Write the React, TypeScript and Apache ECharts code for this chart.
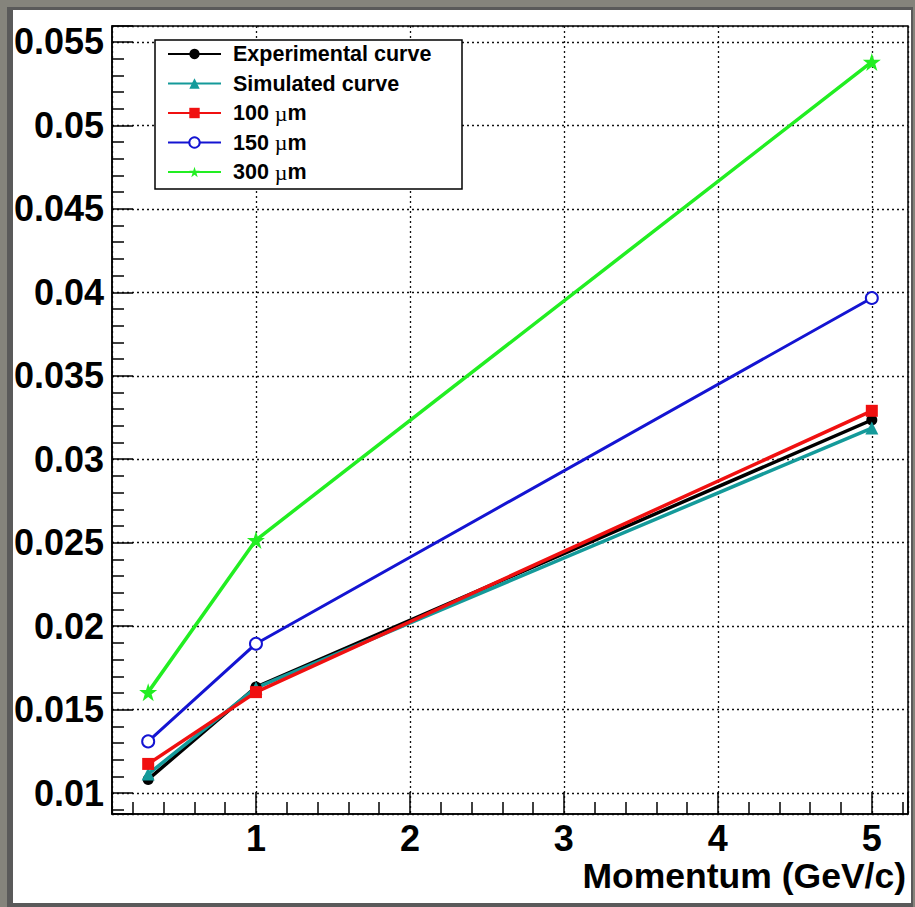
import React, { useEffect, useRef } from "react";
import * as echarts from "echarts";

// Momentum points (GeV/c)
const momentum = [0.3, 1, 5];
// Resolution values per curve
const experimental = [0.01082, 0.01635, 0.03235];
const simulated = [0.01114, 0.0163, 0.03187];
const res100 = [0.01175, 0.01605, 0.0329];
const res150 = [0.0131, 0.01895, 0.03966];
const res300 = [0.01605, 0.02516, 0.0538];

const seriesNames = ["Experimental curve", "Simulated curve", "100 µm", "150 µm", "300 µm"];
const xTitle = "Momentum (GeV/c)";
const xRange = [0.065, 5.235];
const yRange = [0.00875, 0.05595];

const FONT = "'Liberation Sans', Arial, Helvetica, sans-serif";
const STAR =
  "path://M50,0 L61.8,35.1 L98.9,35.1 L68.8,57 L80.2,92.2 L50,70.5 L19.8,92.2 L31.2,57 L1.1,35.1 L38.2,35.1 Z";

const pairs = (ys: number[]) => momentum.map((x, i) => [x, ys[i]]);

export default function App() {
  const ref = useRef<HTMLDivElement>(null);

  useEffect(() => {
    if (!ref.current) return;
    const chart = echarts.init(ref.current, undefined, { renderer: "svg" });

    const axisCommon = {
      type: "value" as const,
      axisLine: { show: true, lineStyle: { color: "#000", width: 1.5 } },
      splitLine: { show: true, lineStyle: { color: "#111", type: [2, 3], width: 1.3 } },
      axisLabel: {
        showMinLabel: false,
        showMaxLabel: false,
        color: "#000",
        fontFamily: FONT,
        fontWeight: "bold" as const,
        fontSize: 36,
      },
    };

    const mk = (
      name: string,
      ys: number[],
      color: string,
      symbol: string,
      size: number,
      width: number,
      hollow = false
    ) => ({
      name,
      type: "line" as const,
      data: pairs(ys),
      symbol,
      symbolSize: size,
      showAllSymbol: true,
      lineStyle: { color, width },
      itemStyle: hollow
        ? { color, borderWidth: 2 }
        : { color, borderColor: color, borderWidth: 0 },
      emphasis: { disabled: true },
      z: 2,
    });

    chart.setOption({
      animation: false,
      backgroundColor: "transparent",
      grid: {
        left: 112,
        top: 26,
        width: 796,
        height: 788,
        show: true,
        borderColor: "#000",
        borderWidth: 1.5,
        backgroundColor: "transparent",
      },
      xAxis: {
        ...axisCommon,
        min: xRange[0],
        max: xRange[1],
        minInterval: 1,
        maxInterval: 1,
        splitNumber: 5,
        axisTick: { show: true, inside: true, length: 22, lineStyle: { color: "#000", width: 1.5 } },
        minorTick: { show: true, splitNumber: 5, length: 12, lineStyle: { color: "#000", width: 1.5 } },
        axisLabel: { ...axisCommon.axisLabel, margin: 6 },
      },
      yAxis: {
        ...axisCommon,
        min: yRange[0],
        max: yRange[1],
        minInterval: 0.005,
        maxInterval: 0.005,
        splitNumber: 9,
        axisTick: { show: true, inside: true, length: 21, lineStyle: { color: "#000", width: 1.5 } },
        minorTick: { show: true, splitNumber: 5, length: 12, lineStyle: { color: "#000", width: 1.5 } },
        axisLabel: { ...axisCommon.axisLabel, margin: 8 },
      },
      legend: {
        orient: "vertical",
        left: 167,
        top: 43,
        padding: 0,
        itemWidth: 53,
        itemHeight: 13,
        itemGap: 7.5,
        selectedMode: false,
        data: seriesNames,
        formatter: (name: string) => name.replace("µ", "{mu|µ}"),
        textStyle: {
          color: "#000",
          fontFamily: FONT,
          fontWeight: "bold",
          fontSize: 21.5,
          lineHeight: 22,
          padding: [0, 0, 0, 7],
          rich: {
            mu: {
              fontFamily: "'Liberation Serif', 'DejaVu Serif', serif",
              fontWeight: "normal",
              fontSize: 22,
              color: "#000",
            },
          },
        },
        z: 5,
      },
      graphic: [
        {
          type: "rect",
          shape: { x: 155, y: 40, width: 307, height: 149 },
          style: { fill: "#fff", stroke: "#000", lineWidth: 1.5 },
          z: 4,
        },
        {
          type: "text",
          x: 906,
          y: 876,
          style: {
            text: xTitle,
            fill: "#000",
            font: `bold 35.5px ${FONT}`,
            textAlign: "right",
            textVerticalAlign: "middle",
          },
        },
      ],
      series: [
        mk(seriesNames[0], experimental, "#000000", "circle", 11, 3.5),
        mk(seriesNames[1], simulated, "#149a9a", "triangle", 13, 3.5),
        mk(seriesNames[2], res100, "#f01010", "rect", 12, 3.5),
        mk(seriesNames[3], res150, "#1414d2", "emptyCircle", 12, 3, true),
        mk(seriesNames[4], res300, "#22ee22", STAR, 18, 3.5),
      ],
    });

    return () => chart.dispose();
  }, []);

  return (
    <div
      style={{
        position: "fixed",
        left: 0,
        top: 0,
        width: 915,
        height: 907,
        background: "#85847c",
        overflow: "hidden",
      }}
    >
      <div
        style={{
          position: "absolute",
          left: 7,
          top: 7,
          width: 906,
          height: 900,
          background: "#5a5a5a",
        }}
      />
      <div
        style={{
          position: "absolute",
          left: 13,
          top: 10,
          width: 898,
          height: 893,
          background: "#ffffff",
        }}
      />
      <div ref={ref} style={{ position: "absolute", left: 0, top: 0, width: 915, height: 907 }} />
    </div>
  );
}
